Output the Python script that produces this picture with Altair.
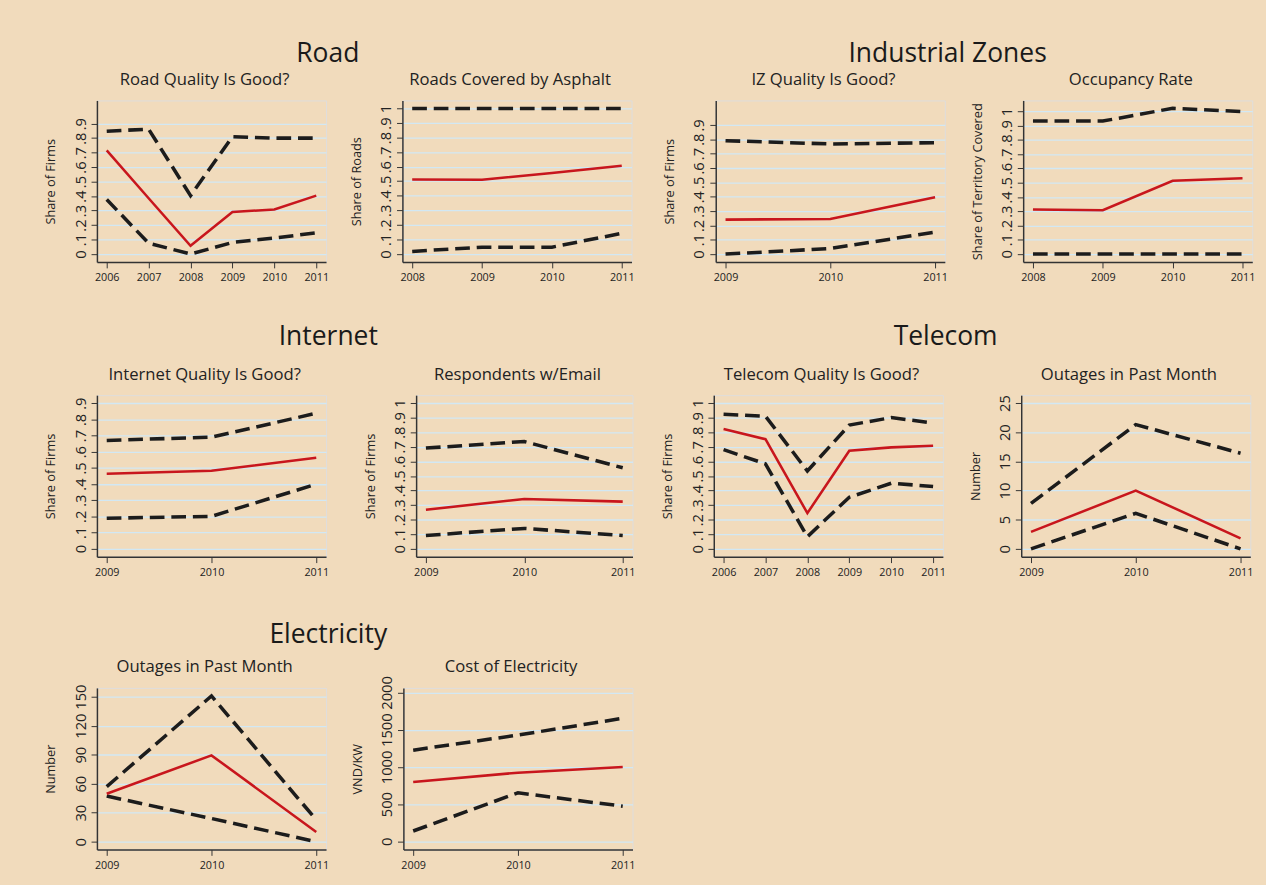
import altair as alt
import pandas as pd

BG = "#f1dbbc"
RED = "#c8161d"
BLACK = "#1c1c1c"
GRID = "#d2e8f4"
AXIS = "#333333"
FONT = "Open Sans"

# ---------------- data ----------------
# Road
road_q_years = [2006, 2007, 2008, 2009, 2010, 2011]
road_q_upper = [0.848, 0.862, 0.403, 0.810, 0.800, 0.800]
road_q_mean = [0.715, 0.385, 0.057, 0.290, 0.308, 0.403]
road_q_lower = [0.376, 0.075, 0.000, 0.080, 0.110, 0.147]

road_a_years = [2008, 2009, 2010, 2011]
road_a_upper = [1.000, 1.000, 1.000, 1.000]
road_a_mean = [0.512, 0.510, 0.557, 0.607]
road_a_lower = [0.018, 0.047, 0.047, 0.142]

# Industrial zones
iz_q_years = [2009, 2010, 2011]
iz_q_upper = [0.790, 0.767, 0.776]
iz_q_mean = [0.240, 0.245, 0.396]
iz_q_lower = [0.000, 0.039, 0.153]

iz_o_years = [2008, 2009, 2010, 2011]
iz_o_upper = [0.933, 0.933, 1.023, 1.000]
iz_o_mean = [0.312, 0.307, 0.514, 0.532]
iz_o_lower = [0.000, 0.000, 0.000, 0.000]

# Internet
net_q_years = [2009, 2010, 2011]
net_q_upper = [0.670, 0.690, 0.838]
net_q_mean = [0.464, 0.482, 0.563]
net_q_lower = [0.188, 0.200, 0.399]

net_e_years = [2009, 2010, 2011]
net_e_upper = [0.691, 0.736, 0.556]
net_e_mean = [0.268, 0.342, 0.324]
net_e_lower = [0.092, 0.140, 0.092]

# Telecom
tel_q_years = [2006, 2007, 2008, 2009, 2010, 2011]
tel_q_upper = [0.923, 0.910, 0.534, 0.849, 0.900, 0.863]
tel_q_mean = [0.822, 0.752, 0.245, 0.673, 0.696, 0.707]
tel_q_lower = [0.680, 0.583, 0.083, 0.354, 0.450, 0.428]

tel_o_years = [2009, 2010, 2011]
tel_o_upper = [7.8, 21.3, 16.4]
tel_o_mean = [2.9, 10.0, 1.8]
tel_o_lower = [0.0, 6.1, 0.0]

# Electricity
ele_o_years = [2009, 2010, 2011]
ele_o_upper = [57.0, 150.7, 22.6]
ele_o_mean = [49.6, 89.3, 10.0]
ele_o_lower = [47.2, 24.0, 0.0]

ele_c_years = [2009, 2010, 2011]
ele_c_upper = [1225, 1428, 1653]
ele_c_mean = [797, 923, 1000]
ele_c_lower = [140, 653, 473]

share_ticks9 = [0, 0.1, 0.2, 0.3, 0.4, 0.5, 0.6, 0.7, 0.8, 0.9]
share_ticks10 = share_ticks9 + [1]

SHARE_EXPR = ("datum.value == 0 ? '0' : (datum.value >= 0.999 ? '1' : "
              "replace(format(datum.value, '.1f'), '0.', '.'))")

H = 165


def panel(title, ytitle, years, upper, mean, lower, ydomain, yticks, share=True,
          title_offset=12, width=234):
    rows = []
    for y, u, m, l in zip(years, upper, mean, lower):
        rows.append({"year": y, "value": u, "series": "upper"})
        rows.append({"year": y, "value": m, "series": "mean"})
        rows.append({"year": y, "value": l, "series": "lower"})
    df = pd.DataFrame(rows)
    pad = (years[-1] - years[0]) * 10.0 / (width - 20)
    xscale = alt.Scale(domain=[years[0] - pad, years[-1] + pad], nice=False, zero=False)
    yscale = alt.Scale(domain=ydomain, nice=False, zero=False)
    yaxis_kw = dict(
        values=yticks, labelAngle=270, labelAlign="center", labelBaseline="bottom",
        labelFontSize=15, labelFont=FONT, labelColor="#222222", labelPadding=3,
        tickSize=6, tickColor=AXIS, domainColor=AXIS, domainWidth=1.5,
        grid=True, gridColor=GRID, gridWidth=1.3,
        title=ytitle, titleFont=FONT, titleFontSize=13, titleFontWeight="normal",
        titleColor="#222222", titlePadding=17, minExtent=23, maxExtent=23,
        labelOverlap=False, labelFlush=False,
    )
    if share:
        yaxis_kw["labelExpr"] = SHARE_EXPR
    else:
        yaxis_kw["format"] = "d"
    yaxis = alt.Axis(**yaxis_kw)
    xaxis = alt.Axis(
        values=years, format="d", labelAngle=0, labelFontSize=11, labelFont=FONT,
        labelColor="#222222", tickSize=6, tickColor=AXIS, domainColor=AXIS, domainWidth=1.5,
        grid=False, title=None, labelFlush=False, labelOverlap=False, labelPadding=4,
    )
    base = alt.Chart(df).encode(
        x=alt.X("year:Q", scale=xscale, axis=xaxis),
        y=alt.Y("value:Q", scale=yscale, axis=yaxis),
    )
    dashed = base.transform_filter("datum.series != 'mean'").mark_line(
        color=BLACK, strokeWidth=3.6, strokeDash=[15, 7], strokeCap="butt"
    ).encode(detail="series:N")
    solid = base.transform_filter("datum.series == 'mean'").mark_line(
        color=RED, strokeWidth=2.6
    )
    return alt.layer(dashed, solid).properties(
        width=width, height=H,
        title=alt.Title(title, fontSize=17, font=FONT, fontWeight="normal",
                        color="#222222", offset=title_offset, frame="group", dx=-7),
    )


def group(name, a, b, spacing, offset):
    return alt.hconcat(
        a, b, spacing=spacing,
        title=alt.Title(name, fontSize=27, font=FONT, fontWeight="normal",
                        color="#1a1a1a", anchor="middle", offset=offset, dx=-12),
    )


p1 = panel("Road Quality Is Good?", "Share of Firms", road_q_years, road_q_upper,
           road_q_mean, road_q_lower, [-0.055, 1.06], share_ticks9)
p2 = panel("Roads Covered by Asphalt", "Share of Roads", road_a_years, road_a_upper,
           road_a_mean, road_a_lower, [-0.055, 1.055], share_ticks10)
p3 = panel("IZ Quality Is Good?", "Share of Firms", iz_q_years, iz_q_upper,
           iz_q_mean, iz_q_lower, [-0.055, 1.07], share_ticks9)
p4 = panel("Occupancy Rate", "Share of Territory Covered", iz_o_years, iz_o_upper,
           iz_o_mean, iz_o_lower, [-0.057, 1.078], share_ticks10)
p5 = panel("Internet Quality Is Good?", "Share of Firms", net_q_years, net_q_upper,
           net_q_mean, net_q_lower, [-0.05, 0.95], share_ticks9)
p6 = panel("Respondents w/Email", "Share of Firms", net_e_years, net_e_upper,
           net_e_mean, net_e_lower, [-0.054, 1.054], share_ticks10, width=221)
p7 = panel("Telecom Quality Is Good?", "Share of Firms", tel_q_years, tel_q_upper,
           tel_q_mean, tel_q_lower, [-0.054, 1.054], share_ticks10)
p8 = panel("Outages in Past Month", "Number", tel_o_years, tel_o_upper,
           tel_o_mean, tel_o_lower, [-1.35, 26.35], [0, 5, 10, 15, 20, 25], share=False,
           title_offset=11)
p9 = panel("Outages in Past Month", "Number", ele_o_years, ele_o_upper,
           ele_o_mean, ele_o_lower, [-8, 159], [0, 30, 60, 90, 120, 150], share=False,
           title_offset=8)
p10 = panel("Cost of Electricity", "VND/KW", ele_c_years, ele_c_upper,
            ele_c_mean, ele_c_lower, [-108, 2061], [0, 500, 1000, 1500, 2000], share=False,
            title_offset=0)

row1 = alt.hconcat(group("Road", p1, p2, 20, 3),
                   group("Industrial Zones", p3, p4, 22, 3), spacing=28)
row2 = alt.hconcat(group("Internet", p5, p6, 34, 15),
                   group("Telecom", p7, p8, 22, 15), spacing=25)
row3 = alt.hconcat(group("Electricity", p9, p10, 21, 9))

top = alt.vconcat(row1, row2, spacing=40)
chart = alt.vconcat(top, row3, spacing=43).properties(
    padding={"left": 45, "top": 31, "right": 10, "bottom": 20},
    background=BG,
).configure_view(fill="white", stroke=None).configure(font=FONT)

chart.save("out.html", embed_options={"renderer": "svg", "actions": False})
